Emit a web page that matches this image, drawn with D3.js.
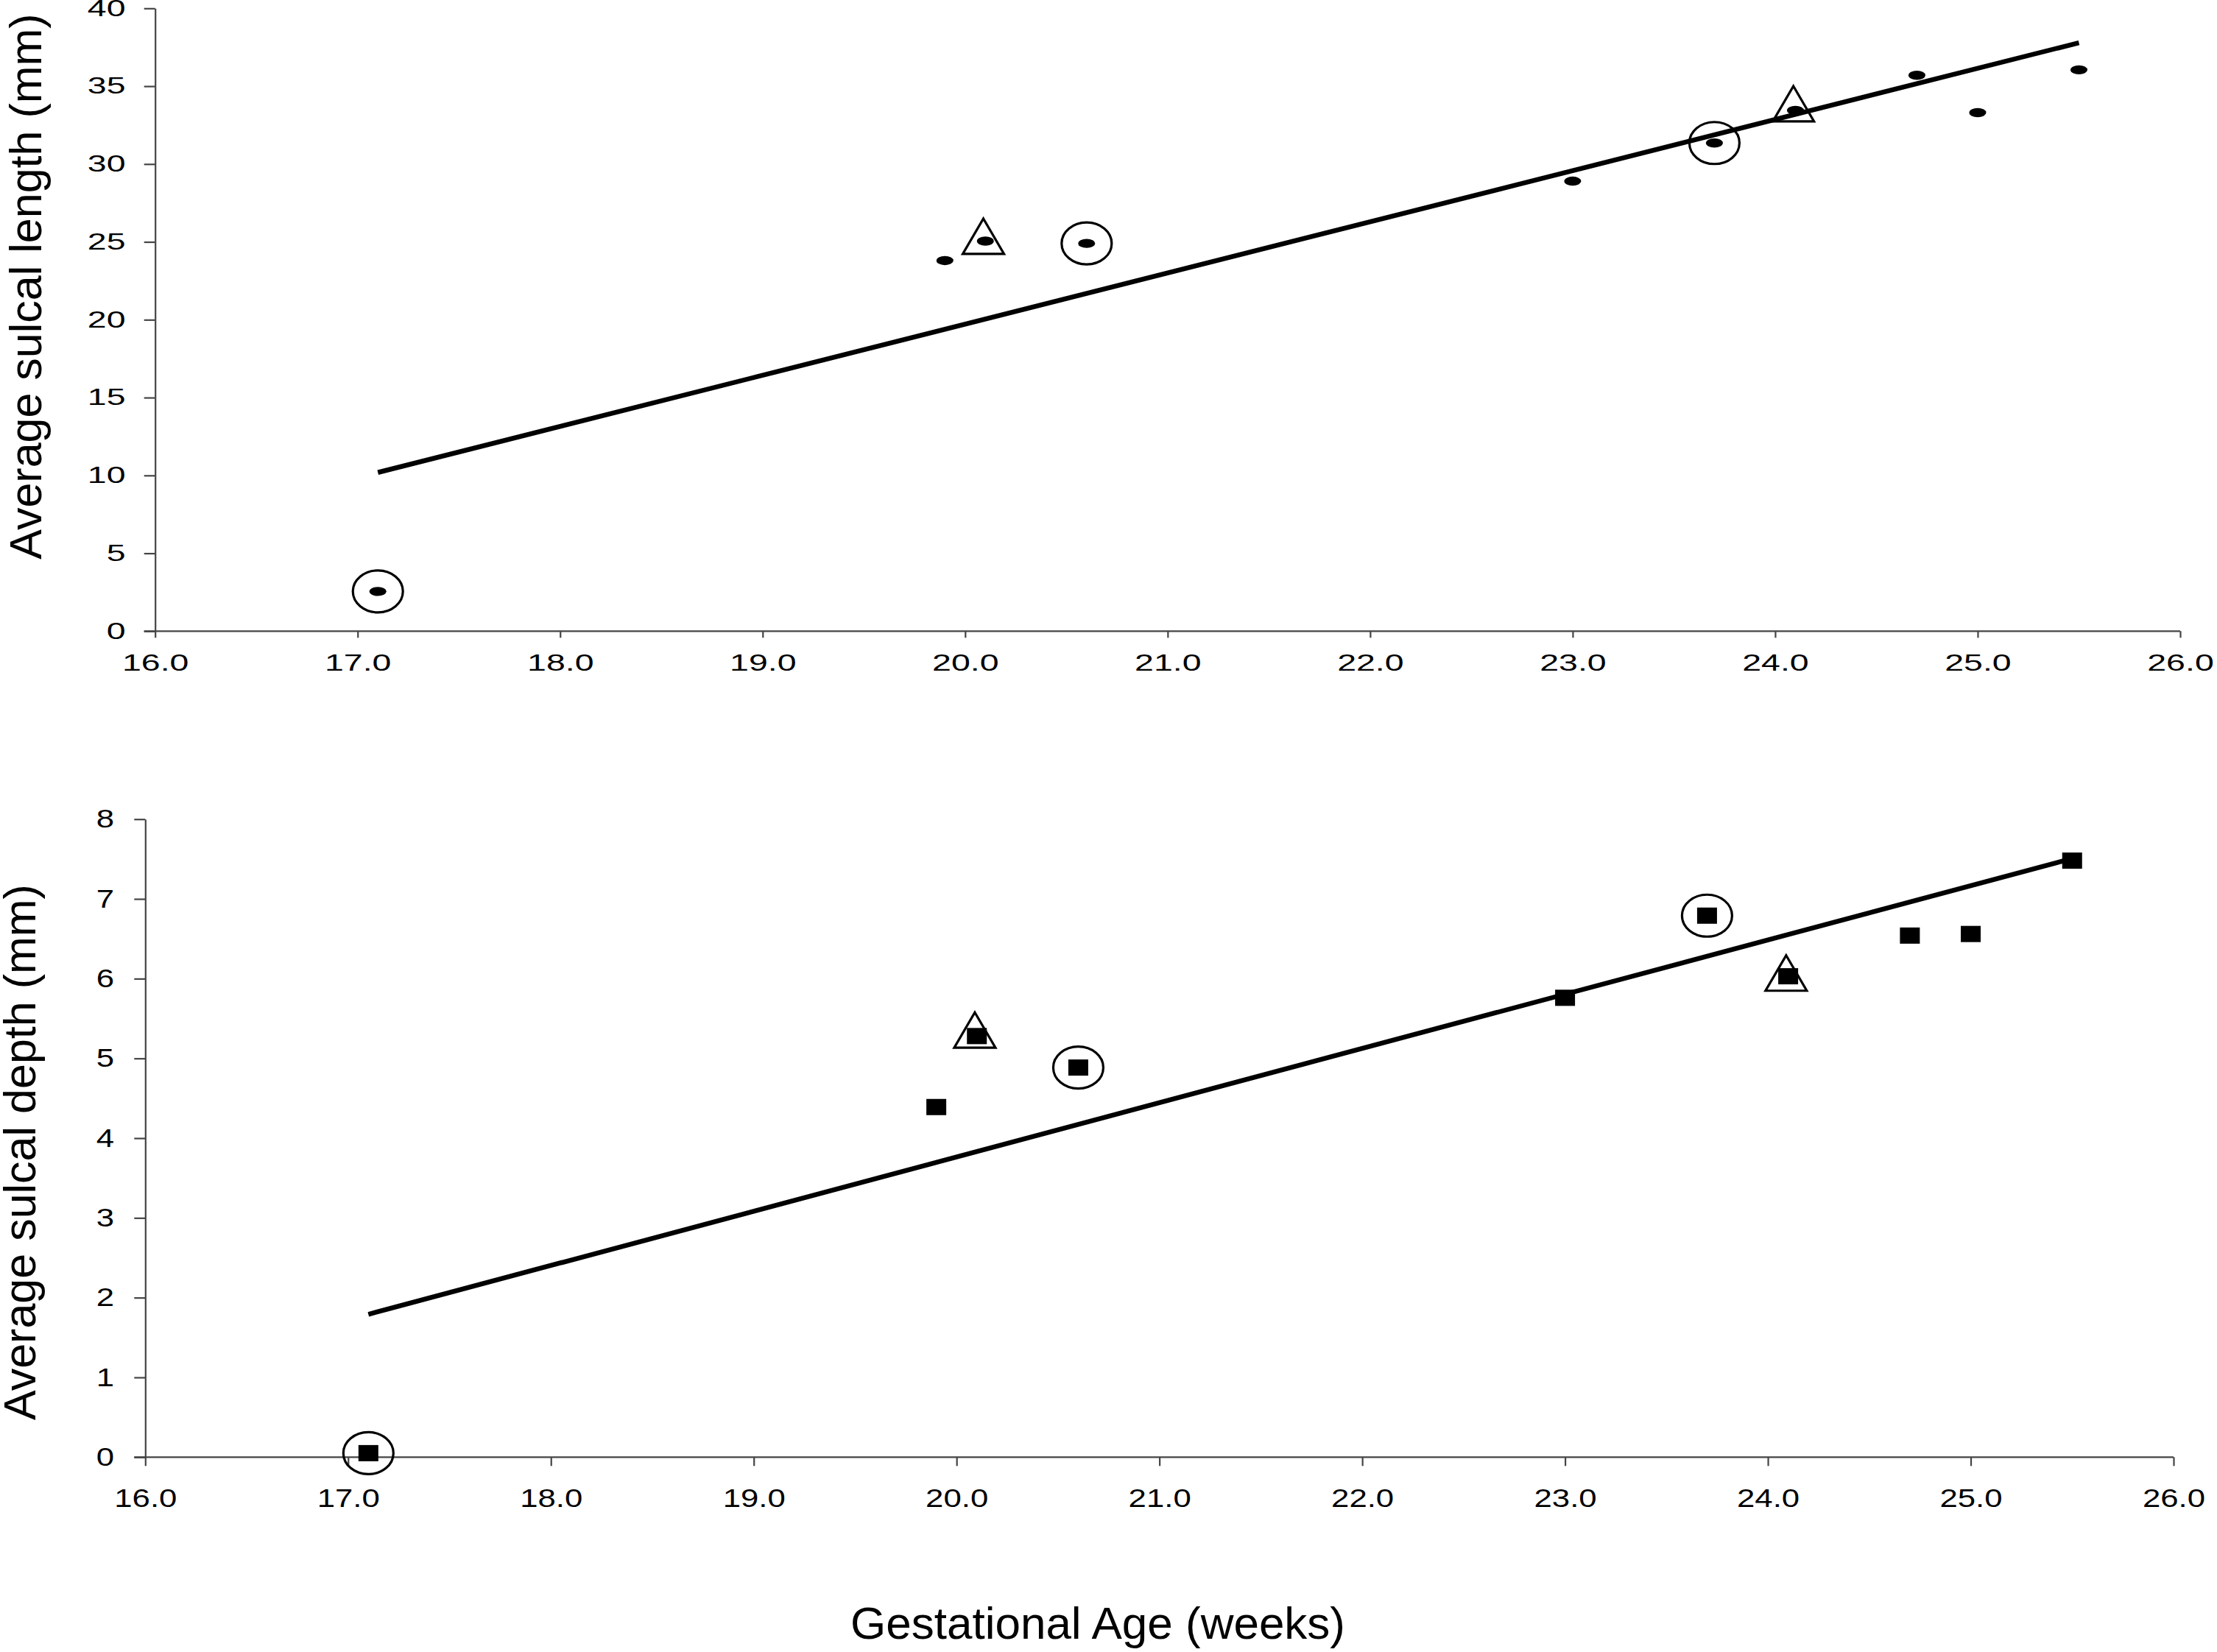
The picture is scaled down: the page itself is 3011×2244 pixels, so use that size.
<!DOCTYPE html>
<html>
<head>
<meta charset="utf-8">
<script src="https://cdnjs.cloudflare.com/ajax/libs/d3/7.8.5/d3.min.js"></script>
<style>
	body { margin: 0; background: #fff; }
	svg { display: block; font-family: "Liberation Sans", Arial, sans-serif; }
</style>
</head>
<body>
<div id="chart"></div>
<script>

// gestational age (weeks) of each brain
let ages = [ 17.1, 19.9, 20.1, 20.6, 23.0, 23.7, 24.1, 24.7, 25.0, 25.5 ];

// average sulcal length (mm) and depth (mm), same order as ages
let sulcal_length = [ 2.55, 23.8, 25.05, 24.9, 28.9, 31.35, 33.45, 35.7, 33.3, 36.05 ];
let sulcal_depth  = [ 0.05, 4.39, 5.28, 4.885, 5.76, 6.79, 6.03, 6.54, 6.56, 7.48 ];

// circled cases (same points as the series)
let circled_ages = [ 17.1, 20.6, 23.7 ];

// triangle marker series
let triangle_ages   = [ 20.09, 24.09 ];
let triangle_length = [ 25.36, 33.87 ];
let triangle_depth  = [ 5.355, 6.07 ];

let x_ticks      = [ 16, 17, 18, 19, 20, 21, 22, 23, 24, 25, 26 ];
let length_ticks = [ 0, 5, 10, 15, 20, 25, 30, 35, 40 ];
let depth_ticks  = [ 0, 1, 2, 3, 4, 5, 6, 7, 8 ];

///////////////////////////////////////////////////////////////////////

let width = 3011, height = 2244;

let svg = d3.select( "#chart" )
	.append( "svg" )
		.attr( "width", width )
		.attr( "height", height )
		.attr( "viewBox", [ 0, 0, width, height ] );

draw_panel( {
	values: sulcal_length,
	tri_values: triangle_length,
	y_ticks: length_ticks,
	x_range: [ 210.7, 2961 ],
	y_range: [ 857.3, 11.3 ],
	label: "Average sulcal length (mm)",
	label_x: 56, label_y: 389,
	font: 31, stretch: 1.5,
	x_tick: 9, x_pad: 22.4,
	y_tick: 15, y_pad: 11.8,
	marker: "dot"
} );

draw_panel( {
	values: sulcal_depth,
	tri_values: triangle_depth,
	y_ticks: depth_ticks,
	x_range: [ 197.3, 2952 ],
	y_range: [ 1979.3, 1112.7 ],
	label: "Average sulcal depth (mm)",
	label_x: 48, label_y: 1565,
	font: 35, stretch: 1.25,
	x_tick: 12, x_pad: 30.8,
	y_tick: 15, y_pad: 18.8,
	marker: "square"
} );

svg.append( "text" )
	.attr( "x", 1155 )
	.attr( "y", 2226 )
	.attr( "font-size", 62 )
	.attr( "fill", "#000" )
	.text( "Gestational Age (weeks)" );

///////////////////////////////////////////////////////////////////////

function draw_panel( p )	{

	let x = d3.scaleLinear()
		.domain( [ x_ticks[ 0 ], x_ticks[ x_ticks.length - 1 ] ] )
		.range( p.x_range );

	let y = d3.scaleLinear()
		.domain( [ p.y_ticks[ 0 ], p.y_ticks[ p.y_ticks.length - 1 ] ] )
		.range( p.y_range );

	let g = svg.append( "g" );

	// axes
	let x_axis = g.append( "g" )
		.attr( "transform", "translate(0," + y( 0 ) + ")" )
		.call(
			d3.axisBottom( x )
				.tickValues( x_ticks )
				.tickFormat( d3.format( ".1f" ) )
				.tickSize( p.x_tick )
				.tickSizeOuter( 0 )
				.tickPadding( p.x_pad )
		);

	let y_axis = g.append( "g" )
		.attr( "transform", "translate(" + x( 16 ) + ",0)" )
		.call(
			d3.axisLeft( y )
				.tickValues( p.y_ticks )
				.tickSize( p.y_tick )
				.tickSizeOuter( 0 )
				.tickPadding( p.y_pad )
		);

	// x axis line reaches out to the end of the y ticks
	x_axis.select( ".domain" ).remove();
	x_axis.append( "line" )
		.attr( "x1", x( 16 ) - p.y_tick )
		.attr( "x2", x( 26 ) );

	for( let a of [ x_axis, y_axis ] )	{
		a.selectAll( "line, path" )
			.attr( "stroke", "#444" )
			.attr( "stroke-width", 2.2 );
		a.selectAll( "text" )
			.attr( "font-size", p.font )
			.attr( "font-family", "\"Liberation Sans\", Arial, sans-serif" )
			.attr( "fill", "#000" )
			.attr( "transform", "scale(" + p.stretch + ",1)" );
	}

	// y title
	g.append( "text" )
		.attr( "transform", "translate(" + p.label_x + "," + p.label_y + ") rotate(-90)" )
		.attr( "text-anchor", "middle" )
		.attr( "font-size", 61 )
		.attr( "fill", "#000" )
		.text( p.label );

	// circled cases
	g.selectAll( "ellipse.ring" )
		.data( circled_ages )
		.join( "ellipse" )
			.attr( "class", "ring" )
			.attr( "cx", d => x( d ) )
			.attr( "cy", d => y( p.values[ ages.indexOf( d ) ] ) )
			.attr( "rx", 34 )
			.attr( "ry", 28.5 )
			.attr( "fill", "none" )
			.attr( "stroke", "#000" )
			.attr( "stroke-width", 3.2 );

	// triangle series
	g.selectAll( "path.tri" )
		.data( triangle_ages )
		.join( "path" )
			.attr( "class", "tri" )
			.attr( "d", ( d, i ) => {
				let cx = x( d ), cy = y( p.tri_values[ i ] );
				return "M" + cx + "," + ( cy - 24 ) +
					"L" + ( cx + 28 ) + "," + ( cy + 24 ) +
					"L" + ( cx - 28 ) + "," + ( cy + 24 ) + "Z";
			} )
			.attr( "fill", "none" )
			.attr( "stroke", "#000" )
			.attr( "stroke-width", 3.2 )
			.attr( "stroke-linejoin", "miter" );

	// data points
	let pts = ages.map( ( a, i ) => ( { x: a, y: p.values[ i ] } ) );

	if( p.marker == "dot" )	{
		g.selectAll( "ellipse.pt" )
			.data( pts )
			.join( "ellipse" )
				.attr( "class", "pt" )
				.attr( "cx", d => x( d.x ) )
				.attr( "cy", d => y( d.y ) )
				.attr( "rx", 11.5 )
				.attr( "ry", 6.2 )
				.attr( "fill", "#000" );
	} else {
		g.selectAll( "rect.pt" )
			.data( pts )
			.join( "rect" )
				.attr( "class", "pt" )
				.attr( "x", d => x( d.x ) - 13.5 )
				.attr( "y", d => y( d.y ) - 11 )
				.attr( "width", 27 )
				.attr( "height", 22 )
				.attr( "fill", "#000" );
	}

	// linear trend line (least squares)
	let mx = d3.mean( pts, d => d.x ), my = d3.mean( pts, d => d.y );
	let sxy = d3.sum( pts, d => ( d.x - mx ) * ( d.y - my ) );
	let sxx = d3.sum( pts, d => ( d.x - mx ) * ( d.x - mx ) );
	let slope = sxy / sxx, icept = my - slope * mx;
	let ext = d3.extent( ages );

	g.append( "line" )
		.attr( "x1", x( ext[ 0 ] ) )
		.attr( "y1", y( icept + slope * ext[ 0 ] ) )
		.attr( "x2", x( ext[ 1 ] ) )
		.attr( "y2", y( icept + slope * ext[ 1 ] ) )
		.attr( "stroke", "#000" )
		.attr( "stroke-width", 6.5 );
}

</script>
</body>
</html>
